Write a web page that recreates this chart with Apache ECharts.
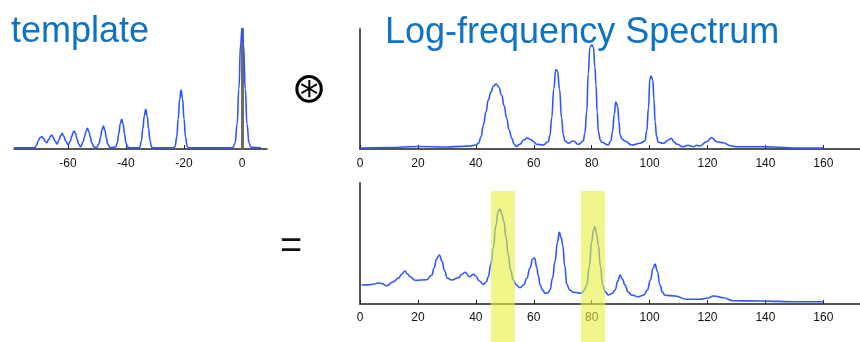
<!DOCTYPE html>
<html>
<head>
<meta charset="utf-8">
<script src="https://cdn.jsdelivr.net/npm/echarts@6/dist/echarts.min.js"></script>
<style>
html,body{margin:0;padding:0;background:#fff;}
#c{width:860px;height:342px;}
</style>
</head>
<body>
<div id="c"></div>
<script>
// ---- template (harmonic template) ----
const tplX = [-78.6,-71.4,-70.8,-70.2,-69.6,-69,-68.4,-67.8,-67.3,-66.6,-66.1,-65.6,-65.1,-64.5,-63.8,-63.1,-62.5,-62,-61.5,-60.8,-59.9,-59.2,-58.7,-58.3,-57.9,-57.4,-56.9,-56.3,-55.6,-54.8,-54.3,-53.8,-53.3,-52.8,-52.3,-51.8,-51,-50.2,-49.3,-48.8,-48.3,-47.8,-47.3,-46.8,-46.3,-45.5,-43.6,-43,-42.5,-42,-41.5,-41,-40.5,-40,-39.4,-38.6,-35.6,-35.2,-34.7,-34.2,-33.7,-33.2,-32.7,-32.2,-31.7,-31.2,-30.6,-23.6,-23.1,-22.5,-22,-21.5,-21,-20.5,-20,-19.5,-18.9,-18.4,-3.6,-3.1,-2.4,-1.7,-1.1,-0.5,0,0.5,1.1,1.7,2.4,3.1,6.5];
const tplY = [1.3,1.3,4,8.5,11.5,12.3,10.5,7.5,6.3,9.5,12.5,14,12,8,5,9,13.5,15.7,13,8,4,8,12.5,16,18,15.5,10,5,2.3,7,12,17.5,20.7,17.5,12,6,2,1.5,5,11.5,19,23,19,11.5,5,1.5,2,6,15,25,29.7,25,15,6,2,1.3,1.3,2,8,20,33,39.7,33,20,8,2,1.3,1.3,2.5,12,30,50,59,50,30,12,2.5,1.3,1.3,1.8,6,25,60,105,120.7,105,60,25,6,1.8,1.3];
const tplTicks = [-60,-40,-20,0];
const tplTickMarks = [-60,-40,-20];

// ---- log-frequency spectrum ----
const specX = [0,10,20,30,36,38,40,40.9,41.8,42.6,43.5,44.3,45.2,46.1,47,47.9,48.9,49.8,50.6,51.5,52.4,53.2,53.9,55.2,56.5,57.8,59,59.9,61,63.3,65,65.6,66.2,66.9,67.6,68.2,68.9,69.6,70.2,70.8,71.9,73.7,75.4,77.1,77.6,78.3,78.8,79.4,80,80.6,81.1,81.5,81.9,82.3,83,83.5,85.7,86.6,87.2,87.8,88.3,89,89.4,89.8,90.5,91.5,93.8,96.7,98.4,99,99.6,100.1,100.5,101.1,101.5,101.9,102.4,103,104.7,106.5,107.4,108.5,109.3,111.6,113.3,115.1,116.3,117.4,119.7,121.4,123.2,125.5,127.8,130.1,138.1,142.7,149.7,160];
const specY = [1,1.5,2.5,2,2.8,3,4,5.7,12,24,37,49,57,63,65,62,54,43,31,19,10.7,5,2.5,4.7,9,11,9.5,7.3,4.7,4,7.3,14,31,60,79.5,78,60,31,14,8,5.7,8,4.7,8,15,37,75,102,104,102,82,64,37,17.3,9,6.7,4,8,17.3,35,47,42.3,28,14,10,8,4,5.7,8,18,40.7,70,73,69,50,27.3,13,6.7,5.7,9,10.7,7,5,2.3,3.7,2.3,3.7,3,7.3,11.3,7.3,6.3,3.3,2.3,2.3,2,1,1];

// ---- convolution result ----
const resX = [0.5,1.2,3,4.6,6.3,7.5,9.2,11.5,13.2,14.5,15.5,16.4,17.3,19,23,24.8,25.6,26.4,27.4,28.3,29.2,30.2,31.7,34,35.3,36.3,37.8,39.2,40,41.2,42.6,43.6,44.3,45.2,46,46.9,47.7,48.3,49,49.7,50.4,51.2,52,52.9,54,55.2,56.5,57.6,58.7,59.6,60.3,61,61.6,62.2,63,63.9,64.8,65.6,66.5,67.3,68.2,68.8,69.5,70,70.7,71.4,72.4,73.7,76.5,77.5,78.3,79.2,80,80.6,81.1,81.7,82.3,83,83.8,84.7,85.8,87,88.1,89,89.8,90.6,91.5,92.6,93.8,96.1,98,99.2,100.3,101.2,101.9,102.6,103.6,104.4,105.3,108.8,112.8,117.4,119.7,122.2,125.4,128.9,138.1,149.6,160];
const resY = [19,19,19.3,19.7,21,20.5,18.3,22.3,25.7,30,33,30,27.3,23.7,24.3,29,36,45,49,43,33,25.7,24,26.3,30,31.7,27.3,29.7,28,23,19.7,22,27.3,40,55.7,78,92,95,90,82.3,67,49,34,24,19,16.3,19,25.7,36,45,46,37.3,28,19,14,10.7,11,14,26,42.3,62,71.7,66,59,38,19.7,14,11.7,10.7,14,19,38,62.3,74,77.3,70,59,38,19,12,9,10.5,14,23,29,25,19,12,9,7.3,9,14,24,36,40,33,19,12,8.7,8,4.7,4.7,5.7,8,6.3,3.3,3,2.3,2.3];
const specTicks = [0,20,40,60,80,100,120,140,160];

// ---- highlighted ranges ----
const hlFrom = [45.2, 76.3];
const hlTo = [53.5, 84.6];

const zip = (a, b) => a.map((v, i) => [v, b[i]]);

const BLUE = '#2f55ff';
const TXT = '#0e72c5';
const FONT = 'Liberation Sans, Arial, Helvetica, sans-serif';
const SPEC_MAX = 172.65;

const chart = echarts.init(document.getElementById('c'), null, {renderer: 'canvas'});

function specXAxis(gi, color, margin) {
  return {
    type: 'value', gridIndex: gi, min: 0, max: SPEC_MAX,
    axisLine: {show: true, onZero: false, lineStyle: {color: color, width: 2}},
    axisTick: {show: true, inside: true, length: 4, customValues: specTicks, lineStyle: {color: '#222', width: 1}},
    axisLabel: {show: true, customValues: specTicks, color: '#111', fontSize: 12, fontFamily: FONT, margin: margin},
    splitLine: {show: false}
  };
}
function hiddenY(gi, max, showLine) {
  return {
    type: 'value', gridIndex: gi, min: 0, max: max,
    axisLine: {show: !!showLine, onZero: false, lineStyle: {color: '#555', width: 2}},
    axisTick: {show: false}, axisLabel: {show: false}, splitLine: {show: false}
  };
}
function curve(xi, data) {
  return {
    type: 'line', xAxisIndex: xi, yAxisIndex: xi, data: data,
    showSymbol: false, symbol: 'none', smooth: 0.5, smoothMonotone: 'x',
    lineStyle: {color: BLUE, width: 1.6}, z: 3
  };
}

const tplSeries = curve(0, zip(tplX, tplY));
tplSeries.markLine = {
  silent: true, symbol: 'none', z: 2,
  label: {show: false},
  lineStyle: {color: '#6b6b6b', width: 3, type: 'solid'},
  data: [{xAxis: 0}]
};

const option = {
  animation: false,
  backgroundColor: '#fff',
  grid: [
    {left: 14, width: 253, top: 28, height: 121},
    {left: 360, right: 0, top: 29, height: 120},
    {left: 360, right: 0, top: 183, height: 121},
    {left: 360, right: 0, top: 191, bottom: 0}
  ],
  xAxis: [
    {
      type: 'value', gridIndex: 0, min: -78.6, max: 8.6,
      axisLine: {show: true, onZero: false, lineStyle: {color: '#222', width: 1.5}},
      axisTick: {show: true, inside: true, length: 4, customValues: tplTickMarks, lineStyle: {color: '#222', width: 1}},
      axisLabel: {show: true, customValues: tplTicks, color: '#111', fontSize: 12, fontFamily: FONT, margin: 9},
      splitLine: {show: false}
    },
    specXAxis(1, '#555', 9),
    specXAxis(2, '#555', 8),
    {type: 'value', gridIndex: 3, min: 0, max: SPEC_MAX, show: false}
  ],
  yAxis: [
    hiddenY(0, 121, false),
    hiddenY(1, 120, true),
    hiddenY(2, 121, true),
    {type: 'value', gridIndex: 3, min: 0, max: 1, show: false}
  ],
  series: [
    tplSeries,
    curve(1, zip(specX, specY)),
    curve(2, zip(resX, resY)),
    {
      type: 'line', xAxisIndex: 3, yAxisIndex: 3, data: [[0, -5]],
      showSymbol: false, symbol: 'none', lineStyle: {opacity: 0}, z: 20,
      markArea: {
        silent: true, z: 20,
        itemStyle: {color: 'rgba(230,240,60,0.6)'},
        data: hlFrom.map((f, i) => [{xAxis: f}, {xAxis: hlTo[i]}])
      }
    }
  ],
  graphic: [
    {type: 'text', left: 11, top: 14, z: 30,
     style: {text: 'template', fill: TXT, font: '36px ' + FONT}},
    {type: 'text', left: 385, top: 15, z: 30,
     style: {text: 'Log-frequency Spectrum', fill: TXT, font: '36px ' + FONT}},
    {type: 'text', x: 309, y: 91, z: 30,
     style: {text: '\u229B', fill: '#000', font: '42px DejaVu Sans', align: 'center', verticalAlign: 'middle'}},
    {type: 'text', x: 291, y: 248, z: 30,
     style: {text: '=', fill: '#111', font: '38px ' + FONT, align: 'center', verticalAlign: 'middle'}}
  ]
};
chart.setOption(option);
</script>
</body>
</html>
